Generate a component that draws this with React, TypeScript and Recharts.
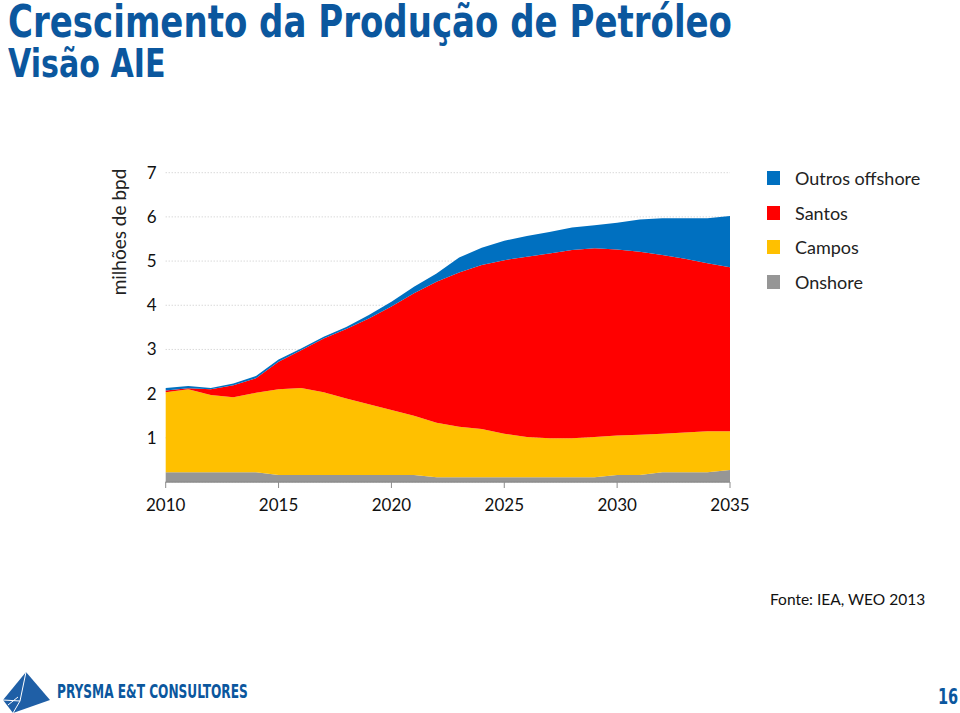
import React from 'react';
import { AreaChart, Area, XAxis, YAxis, CartesianGrid } from 'recharts';

const years = [
  2010, 2011, 2012, 2013, 2014, 2015, 2016, 2017, 2018, 2019, 2020, 2021, 2022,
  2023, 2024, 2025, 2026, 2027, 2028, 2029, 2030, 2031, 2032, 2033, 2034, 2035,
];

// milhões de bpd
const onshore = [
  0.22, 0.22, 0.22, 0.22, 0.22, 0.16, 0.16, 0.16, 0.16, 0.16, 0.16, 0.16, 0.11,
  0.11, 0.11, 0.11, 0.11, 0.11, 0.11, 0.11, 0.16, 0.16, 0.22, 0.22, 0.22, 0.27,
];
const campos = [
  1.81, 1.88, 1.75, 1.7, 1.8, 1.94, 1.97, 1.87, 1.73, 1.6, 1.47, 1.34, 1.23,
  1.14, 1.09, 0.98, 0.91, 0.88, 0.88, 0.91, 0.89, 0.91, 0.87, 0.9, 0.93, 0.88,
];
const santos = [
  0.04, 0.02, 0.13, 0.27, 0.33, 0.62, 0.85, 1.22, 1.57, 1.94, 2.34, 2.77, 3.19,
  3.49, 3.71, 3.93, 4.08, 4.18, 4.26, 4.27, 4.21, 4.14, 4.05, 3.93, 3.8, 3.71,
];
const outros = [
  0.06, 0.05, 0.03, 0.04, 0.05, 0.05, 0.04, 0.04, 0.05, 0.08, 0.11, 0.15, 0.19,
  0.34, 0.39, 0.44, 0.47, 0.49, 0.51, 0.52, 0.61, 0.73, 0.83, 0.92, 1.02, 1.16,
];

const xTicks = [2010, 2015, 2020, 2025, 2030, 2035];
const yTicks = [1, 2, 3, 4, 5, 6, 7];

const series = [
  { key: 'outros', name: 'Outros offshore', color: '#0070C0' },
  { key: 'santos', name: 'Santos', color: '#FF0000' },
  { key: 'campos', name: 'Campos', color: '#FFC000' },
  { key: 'onshore', name: 'Onshore', color: '#969696' },
];

const data = years.map((year, i) => ({
  year,
  onshore: onshore[i],
  campos: campos[i],
  santos: santos[i],
  outros: outros[i],
}));

const BLUE = '#0B579E';
const bodyFont = 'Lato, "Open Sans", sans-serif';
const titleFont = '"DejaVu Sans Condensed", "DejaVu Sans", sans-serif';

export default function App() {
  return (
    <div
      style={{
        position: 'fixed',
        top: 0,
        left: 0,
        width: 960,
        height: 713,
        background: '#fff',
        overflow: 'hidden',
        fontFamily: bodyFont,
      }}
    >
      <div
        style={{
          position: 'absolute',
          left: 8,
          top: 0,
          fontFamily: titleFont,
          fontWeight: 'bold',
          fontSize: 38,
          lineHeight: 1,
          color: BLUE,
          whiteSpace: 'nowrap',
          transform: 'scale(0.995, 1.15)',
          transformOrigin: '0 0',
        }}
      >
        Crescimento da Produção de Petróleo
      </div>
      <div
        style={{
          position: 'absolute',
          left: 8,
          top: 44.5,
          fontFamily: titleFont,
          fontWeight: 'bold',
          fontSize: 33.5,
          lineHeight: 1,
          color: BLUE,
          whiteSpace: 'nowrap',
          transform: 'scale(1, 1.15)',
          transformOrigin: '0 0',
        }}
      >
        Visão AIE
      </div>

      {/* y axis title */}
      <div
        style={{
          position: 'absolute',
          left: 118,
          top: 232,
          transform: 'translate(-50%, -50%) rotate(-90deg)',
          fontSize: 19,
          color: '#222',
          whiteSpace: 'nowrap',
        }}
      >
        milhões de bpd
      </div>

      <div style={{ position: 'absolute', left: 100, top: 150 }}>
        <AreaChart
          width={680}
          height={380}
          data={data}
          margin={{ top: 22.7, right: 50, left: 0, bottom: 18 }}
        >
          <CartesianGrid
            horizontal
            vertical={false}
            stroke="#c8c8c8"
            strokeDasharray="1 2"
          />
          <XAxis
            dataKey="year"
            type="number"
            domain={[2010, 2035]}
            ticks={xTicks}
            interval={0}
            axisLine={{ stroke: '#8c8c8c', strokeWidth: 1.5 }}
            tickLine={{ stroke: '#8c8c8c' }}
            tickSize={6}
            tickMargin={11}
            height={30}
            tick={{ fill: '#111', fontSize: 17, fontFamily: bodyFont }}
          />
          <YAxis
            type="number"
            domain={[0, 7]}
            ticks={yTicks}
            interval={0}
            axisLine={false}
            tickLine={false}
            tickSize={0}
            tickMargin={9}
            width={65.7}
            tick={{ fill: '#111', fontSize: 17, fontFamily: bodyFont }}
          />
          {[...series].reverse().map((s) => (
            <Area
              key={s.key}
              type="linear"
              dataKey={s.key}
              name={s.name}
              stackId="1"
              stroke="none"
              fill={s.color}
              fillOpacity={1}
              isAnimationActive={false}
            />
          ))}
        </AreaChart>
      </div>

      {/* legend */}
      <div style={{ position: 'absolute', left: 767, top: 161 }}>
        {series.map((s) => (
          <div
            key={s.key}
            style={{ display: 'flex', alignItems: 'center', height: 34.6 }}
          >
            <div style={{ width: 13, height: 14, background: s.color }} />
            <span style={{ marginLeft: 15, fontSize: 18, color: '#222' }}>
              {s.name}
            </span>
          </div>
        ))}
      </div>

      <div
        style={{
          position: 'absolute',
          left: 770,
          top: 590,
          fontSize: 15.5,
          color: '#111',
          whiteSpace: 'nowrap',
        }}
      >
        Fonte: IEA, WEO 2013
      </div>

      {/* footer logo */}
      <svg
        width={60}
        height={48}
        style={{ position: 'absolute', left: 0, top: 667 }}
      >
        <polygon points="26,5 50,33 13,46 3,33" fill="#1F5FA6" />
        <polyline points="26,5 20,34 13,46" fill="none" stroke="#fff" strokeWidth={1} />
        <polyline points="3,33 20,34" fill="none" stroke="#fff" strokeWidth={1} />
        <polyline points="8,38 18,30" fill="none" stroke="#fff" strokeWidth={1} />
      </svg>
      <div
        style={{
          position: 'absolute',
          left: 57,
          top: 682,
          fontFamily: titleFont,
          fontWeight: 'bold',
          fontSize: 18,
          lineHeight: 1,
          color: BLUE,
          whiteSpace: 'nowrap',
          transform: 'scale(0.75, 1.05)',
          transformOrigin: '0 0',
        }}
      >
        PRYSMA E&amp;T CONSULTORES
      </div>
      <div
        style={{
          position: 'absolute',
          left: 938,
          top: 686,
          fontFamily: titleFont,
          fontWeight: 'bold',
          fontSize: 19,
          lineHeight: 1,
          color: BLUE,
          transform: 'scale(0.85, 1.1)',
          transformOrigin: '0 0',
        }}
      >
        16
      </div>
    </div>
  );
}
